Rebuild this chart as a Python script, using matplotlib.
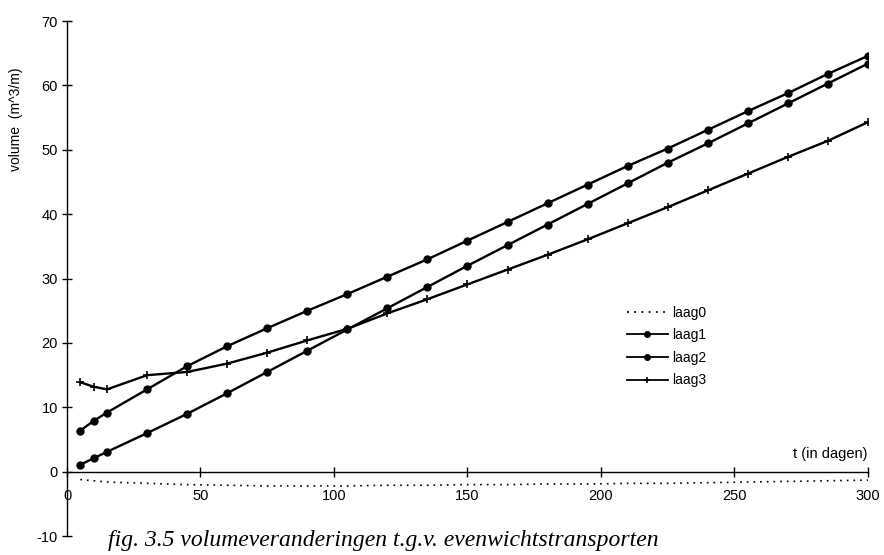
import matplotlib
matplotlib.use("Agg")
import matplotlib.pyplot as plt

# time in days
t = [5, 10, 15, 30, 45, 60, 75, 90, 105, 120, 135, 150, 165, 180, 195,
     210, 225, 240, 255, 270, 285, 300]

# volume per layer (m^3/m)
laag0 = [-1.2, -1.4, -1.6, -1.8, -2.0, -2.1, -2.2, -2.2, -2.2, -2.1, -2.1,
         -2.0, -2.0, -1.9, -1.9, -1.8, -1.8, -1.7, -1.6, -1.5, -1.4, -1.3]
laag1 = [1.1, 2.1, 3.1, 6.0, 9.0, 12.2, 15.5, 18.8, 22.1, 25.4, 28.7,
         32.0, 35.2, 38.4, 41.6, 44.8, 48.0, 51.0, 54.1, 57.2, 60.3, 63.4]
laag2 = [6.4, 7.9, 9.2, 12.8, 16.4, 19.5, 22.3, 25.0, 27.6, 30.3, 33.0,
         35.9, 38.8, 41.7, 44.6, 47.5, 50.2, 53.1, 56.0, 58.8, 61.8, 64.6]
laag3 = [13.9, 13.2, 12.8, 15.0, 15.5, 16.8, 18.5, 20.4, 22.2, 24.6, 26.8,
         29.1, 31.4, 33.7, 36.1, 38.6, 41.1, 43.7, 46.3, 48.9, 51.4, 54.3]

xticks = [0, 50, 100, 150, 200, 250, 300]
yticks = [-10, 0, 10, 20, 30, 40, 50, 60, 70]

plt.rcParams['font.family'] = ['Liberation Sans', 'DejaVu Sans']
plt.rcParams['axes.unicode_minus'] = False

fig = plt.figure(figsize=(8.84, 5.55), dpi=100)
ax = fig.add_axes([0.0758, 0.034, 0.906, 0.928])

ax.plot(t, laag0, color='black', linestyle=(0, (1, 3)), lw=1.2, label='laag0')
ax.plot(t, laag1, color='black', lw=1.7, marker='o', ms=5, label='laag1')
ax.plot(t, laag2, color='black', lw=1.7, marker='o', ms=5, label='laag2')
ax.plot(t, laag3, color='black', lw=1.7, marker='+', ms=6, mew=1.2, label='laag3')

ax.set_xlim(0, 300)
ax.set_ylim(-10, 70)
ax.set_xticks(xticks)
ax.set_yticks(yticks)

for s in ['top', 'right']:
    ax.spines[s].set_visible(False)
ax.spines['bottom'].set_position(('data', 0))
ax.spines['left'].set_linewidth(1.0)
ax.spines['bottom'].set_linewidth(1.0)

ax.tick_params(axis='both', direction='inout', length=7, width=1,
               labelsize=10.5, colors='black')
ax.tick_params(axis='x', pad=9)
ax.tick_params(axis='y', pad=3)

ax.set_ylabel('volume  (m^3/m)', fontsize=10)
ax.yaxis.set_label_coords(-0.055, 0.81)

ax.text(300, 1.6, 't (in dagen)', fontsize=10.5, ha='right', va='bottom')

leg = ax.legend(loc='upper left', bbox_to_anchor=(0.683, 0.472), frameon=False,
                fontsize=10, handlelength=3.0, handletextpad=0.3,
                labelspacing=0.62)
for h in leg.legend_handles:
    h.set_linewidth(1.3)
    h.set_markersize(4)

fig.text(0.122, 0.026, 'fig. 3.5 volumeveranderingen t.g.v. evenwichtstransporten',
         fontsize=17.0, style='italic', family='Liberation Serif', va='center')

fig.savefig('out.png', dpi=100)
